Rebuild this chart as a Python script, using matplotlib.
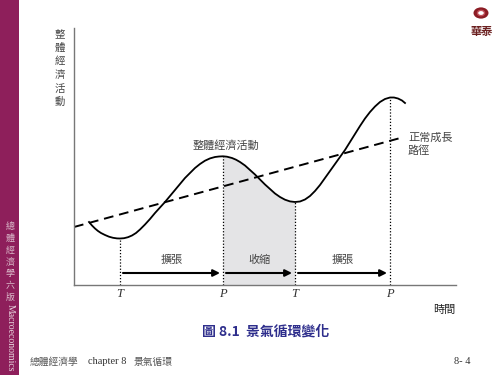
import numpy as np
import matplotlib
matplotlib.use('Agg')
import matplotlib.pyplot as plt
from matplotlib.patches import Rectangle, Circle

plt.rcParams['font.family'] = ['Noto Sans CJK TC', 'DejaVu Sans']

# curve (time, activity)
time = [15, 18, 21, 24, 27, 31, 35, 39, 43, 46, 50, 54, 58, 62, 66, 71, 76, 81, 86,
        91, 96, 101, 106, 111, 116, 121, 126, 131, 136, 141, 145, 149, 153, 158, 162,
        166, 171, 176, 181, 186, 191, 196, 201, 206, 211, 216, 221, 226, 231, 236,
        241, 246, 251, 256, 261, 266, 271, 276, 281, 286, 291, 296, 301, 306, 311,
        316, 320, 324, 328, 331]
activity = [63, 59.5, 56.5, 54, 52, 50, 48.3, 47.2, 46.6, 46.5, 46.8, 47.8, 49.5, 52,
            55.5, 60.5, 66, 72, 77.5, 83, 89, 95, 101, 107, 112, 117, 121, 124.3, 126.6,
            128, 128.5, 128.7, 128.3, 127, 125.3, 123, 119.5, 115, 110.5, 105.5, 100.5,
            96, 91.5, 88, 85.3, 83.6, 83, 83.5, 85.5, 89, 94, 100, 107, 114, 121, 128,
            135, 143, 151, 159, 166.5, 173, 178.5, 183, 186, 187.5, 187.5, 186.5, 184.5,
            182]
trend_t = [0, 330]
trend_y = [58, 148]
turn_t = [46, 149, 221, 316]
turn_lab = ['T', 'P', 'T', 'P']
phase_lab = ['擴張', '收縮', '擴張']

fig = plt.figure(figsize=(5, 3.75), dpi=100)
fig.patches.append(Rectangle((0, 0), 19 / 500, 1, transform=fig.transFigure,
                             facecolor='#8e1f5b', edgecolor='none'))

ax = fig.add_axes([74 / 500, 90 / 375, 382 / 500, 257 / 375])
ax.set_xlim(0, 382)
ax.set_ylim(0, 257)
for s in ['top', 'right']:
    ax.spines[s].set_visible(False)
for s in ['left', 'bottom']:
    ax.spines[s].set_color('#777777')
    ax.spines[s].set_linewidth(1.0)
ax.set_yticks([])
ax.set_xticks(turn_t)
ax.set_xticklabels(turn_lab, fontfamily='Liberation Serif', fontstyle='italic',
                   fontsize=9, color='#333333')
ax.tick_params(axis='x', length=0, pad=2)

t = np.array(time)
a = np.array(activity)
m = (t >= turn_t[1]) & (t <= turn_t[2])
ax.fill_between(t[m], 0, a[m], color='#e4e4e6', lw=0)

ax.plot(time, activity, color='black', lw=1.3)
ax.plot(trend_t, trend_y, color='black', lw=1.4, dashes=(5, 3))

for x in turn_t:
    ax.vlines(x, 0, a[t == x][0], colors='black', linestyles=(0, (1, 1.5)), lw=0.9)

for i in range(3):
    x0, x1 = turn_t[i], turn_t[i + 1]
    ax.annotate('', xy=(x1 - 3, 12), xytext=(x0 + 3, 12),
                arrowprops=dict(arrowstyle='-|>', color='black', lw=1.5,
                                mutation_scale=10, shrinkA=0, shrinkB=0))
    ax.text((x0 + x1) / 2, 20, phase_lab[i], ha='center', va='bottom',
            fontsize=8, color='#444444')

ax.text(152, 134, '整體經濟活動', ha='center', va='bottom', fontsize=8, color='#444444')
ax.text(334, 141, '正常成長\n路徑', ha='left', va='center', fontsize=8,
        color='#444444', linespacing=1.3)

fig.text(60 / 500, 1 - 29 / 375, '\n'.join('整體經濟活動'), ha='center', va='top',
         fontsize=7.5, color='#444444', linespacing=1.45)
fig.text(455 / 500, 1 - 310 / 375, '時間', ha='right', va='center', fontsize=8,
         color='#222222')
fig.text(266 / 500, 1 - 332 / 375, '圖 8.1  景氣循環變化', ha='center', va='center',
         fontsize=10, color='#2e2e8c', fontweight='bold')
fig.text(30 / 500, 1 - 362 / 375, '總體經濟學', ha='left', va='center', fontsize=7,
         color='#555555')
fig.text(88 / 500, 1 - 362 / 375, 'chapter 8', ha='left', va='center', fontsize=7.5,
         color='#333333', fontfamily='Liberation Serif')
fig.text(134 / 500, 1 - 362 / 375, '景氣循環', ha='left', va='center', fontsize=7,
         color='#555555')
fig.text(470 / 500, 1 - 362 / 375, '8- 4', ha='right', va='center', fontsize=7.5,
         color='#333333', fontfamily='Liberation Serif')

# left bar text
fig.text(10 / 500, 1 - 222 / 375, '\n'.join('總體經濟學六版'), ha='center', va='top',
         fontsize=6.5, color='#d9b8c8', linespacing=1.4)
fig.text(10 / 500, 1 - 304 / 375, 'Macroeconomics', ha='center', va='top', rotation=270,
         fontsize=7, color='#e8d4de', fontfamily='Liberation Serif')

# logo
fig.patches.append(Circle((481 / 500, 1 - 13 / 375), 7.5 / 500, transform=fig.transFigure,
                          facecolor='#8b1c24', edgecolor='none'))
fig.patches.append(Circle((481 / 500, 1 - 13 / 375), 3.5 / 500, transform=fig.transFigure,
                          facecolor='white', edgecolor='#c0505a', lw=1))
fig.text(482 / 500, 1 - 32 / 375, '華泰', ha='center', va='center', fontsize=8,
         color='#6b2020', fontweight='bold')

fig.savefig('out.png', dpi=100)
